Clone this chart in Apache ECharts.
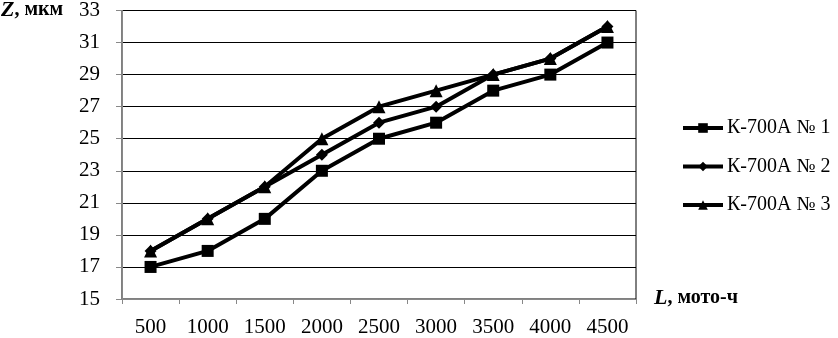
<!DOCTYPE html>
<html>
<head>
<meta charset="utf-8">
<script src="https://cdn.jsdelivr.net/npm/echarts@6/dist/echarts.min.js"></script>
<style>
  html,body{margin:0;padding:0;background:#fff;}
  #main{width:838px;height:338px;}
</style>
</head>
<body>
<div id="main"></div>
<script>
var categories = ['500','1000','1500','2000','2500','3000','3500','4000','4500'];
var seriesNames = ['К-700А № 1','К-700А № 2','К-700А № 3'];
var k1 = [17,18,20,23,25,26,28,29,31];
var k2 = [18,20,22,24,26,27,29,30,32];
var k3 = [18,20,22,25,27,28,29,30,32];
var symbols = ['rect','diamond','triangle'];
var symbolSizes = [12,12,13];

var font = '"Liberation Serif","Times New Roman",serif';
var myChart = echarts.init(document.getElementById('main'));

// линии серий
var series = [k1,k2,k3].map(function(d,i){
  return {
    name: seriesNames[i],
    type: 'line',
    data: d,
    symbol: symbols[i],
    symbolSize: symbolSizes[i],
    showAllSymbol: true,
    lineStyle:{color:'#000',width:4},
    itemStyle:{color:'#000'},
    z: 3 + i
  };
});

var option = {
  animation:false,
  grid:{left:122,right:202,top:9,bottom:36,show:true,borderColor:'#000',borderWidth:1},
  legend:{
    orient:'vertical',left:676,top:112,itemGap:16.5,
    itemWidth:40,itemHeight:12,
    lineStyle:{width:4},
    textStyle:{fontFamily:font,fontSize:20,lineHeight:22,color:'#000',padding:[0,0,0,-1]},
    data:seriesNames
  },
  xAxis:{
    type:'category',data:categories,boundaryGap:true,
    axisLine:{lineStyle:{color:'#888',width:1}},
    axisTick:{show:true,length:5,lineStyle:{color:'#888'}},
    axisLabel:{fontFamily:font,fontSize:21,color:'#000',margin:18}
  },
  yAxis:{
    type:'value',min:15,max:33,interval:2,
    axisLine:{show:true,lineStyle:{color:'#888',width:1}},
    axisTick:{show:true,length:6,lineStyle:{color:'#888'}},
    axisLabel:{fontFamily:font,fontSize:21,color:'#000',margin:22},
    splitLine:{lineStyle:{color:'#000',width:1.2}}
  },
  graphic:[
    {type:'text',left:1,top:-1,style:{
      text:'{i|Z}{b|, мкм}',
      rich:{
        i:{fontFamily:font,fontSize:22,fontWeight:'bold',fontStyle:'italic',fill:'#000'},
        b:{fontFamily:font,fontSize:20,fontWeight:'bold',fill:'#000'}
      }}},
    {type:'text',left:654,top:287,style:{
      text:'{i|L}{b|, мото-ч}',
      rich:{
        i:{fontFamily:font,fontSize:22,fontWeight:'bold',fontStyle:'italic',fill:'#000'},
        b:{fontFamily:font,fontSize:20,fontWeight:'bold',fill:'#000'}
      }}}
  ],
  series: series
};
myChart.setOption(option);
</script>
</body>
</html>
